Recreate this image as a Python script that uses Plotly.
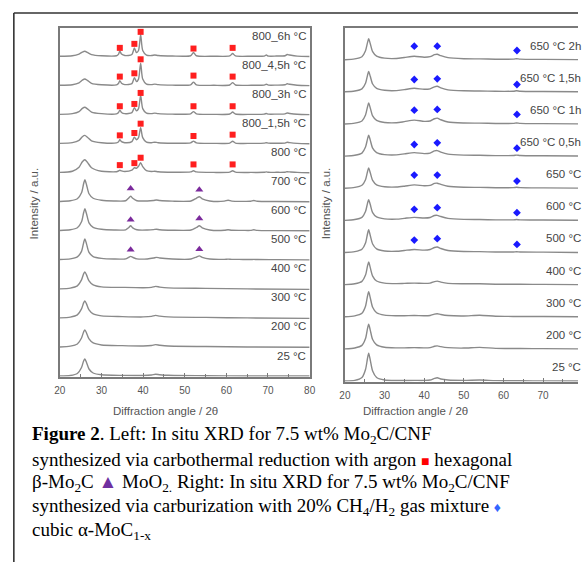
import plotly.graph_objects as go

W, H = 584, 562

# ---------------- Left panel: carbothermal reduction (argon) ----------------
LEFT_LABELS = ["800_6h °C", "800_4,5h °C", "800_3h °C", "800_1,5h °C", "800 °C",
               "700 °C", "600 °C", "500 °C", "400 °C", "300 °C", "200 °C", "25 °C"]

# 2θ sample points (800 °C series)
L_GRID_A = [20, 23, 24.6, 25.4, 26.0, 26.6, 27.6, 30, 33.6, 34.1, 34.4, 34.8, 35.6,
            37.3, 37.9, 38.4, 38.9, 39.4, 39.9, 40.8, 42, 42.8, 43.6, 47, 51.4, 52.1,
            52.8, 57, 60.8, 61.5, 62.2, 66, 69.1, 69.6, 70.1, 72, 74.1, 74.6, 75.2, 77, 80]
I_800_6H = [0.3, 0.8, 2.5, 4.5, 5.3, 4.2, 2.0, 0.8, 0.8, 2.5, 5.5, 2.5, 1.0,
            2.0, 8.5, 4.0, 6.0, 22.0, 6.0, 1.5, 1.0, 1.5, 1.0, 0.5, 0.8, 4.0,
            0.8, 0.3, 0.6, 3.0, 0.6, 0.3, 0.5, 1.5, 0.5, 0.5, 0.8, 2.0, 1.5, 0.4, 0.0]
I_800_45H = [0.3, 0.9, 2.8, 5.5, 6.6, 5.2, 2.3, 0.9, 0.8, 2.4, 5.0, 2.4, 1.0,
             2.0, 8.0, 4.0, 6.5, 22.5, 6.5, 1.5, 1.0, 1.5, 1.0, 0.5, 0.8, 3.5,
             0.8, 0.3, 0.6, 3.0, 0.6, 0.3, 0.5, 1.3, 0.5, 0.5, 0.8, 1.8, 1.3, 0.4, 0.0]
I_800_3H = [0.3, 1.0, 3.0, 6.2, 7.4, 5.8, 2.6, 1.0, 0.8, 2.2, 4.5, 2.2, 1.0,
            2.0, 7.0, 3.8, 6.0, 19.5, 6.0, 1.5, 1.0, 1.5, 1.0, 0.5, 0.8, 3.0,
            0.8, 0.3, 0.6, 2.6, 0.6, 0.3, 0.5, 1.2, 0.5, 0.5, 0.7, 1.6, 1.2, 0.4, 0.0]
I_800_15H = [0.3, 1.0, 3.3, 7.0, 8.3, 6.5, 2.9, 1.0, 0.8, 2.0, 4.0, 2.0, 1.0,
             2.0, 6.5, 4.0, 6.0, 16.0, 6.0, 1.5, 1.0, 1.5, 1.0, 0.5, 0.8, 2.6,
             0.8, 0.3, 0.6, 2.5, 0.6, 0.3, 0.5, 1.0, 0.5, 0.5, 0.6, 1.4, 1.0, 0.3, 0.0]
I_800 = [0.3, 1.5, 5.5, 11.0, 13.0, 10.5, 5.0, 1.5, 1.0, 1.8, 2.5, 1.8, 1.2,
         2.5, 5.0, 4.5, 6.5, 10.0, 6.0, 2.0, 1.2, 1.5, 1.0, 0.5, 0.8, 2.0,
         0.8, 0.3, 0.6, 2.0, 0.6, 0.3, 0.4, 0.8, 0.4, 0.4, 0.5, 1.0, 0.8, 0.3, 0.0]

# 2θ sample points (700-500 °C, MoO2 stage)
L_GRID_B = [20, 22.5, 24.2, 25.2, 25.7, 26.0, 26.4, 27.0, 28, 30, 33, 35.8, 36.5, 37.0,
            37.5, 38.5, 41, 42.5, 43.2, 44, 47, 51.5, 52.8, 53.5, 54.2, 56, 59.5, 60.4,
            61.3, 64, 65.8, 66.6, 67.4, 72, 80]
I_700 = [0.3, 1.0, 3.0, 9.0, 18.0, 22.0, 17.0, 8.0, 3.5, 1.5, 0.8, 1.0, 3.5, 5.5,
         3.5, 1.0, 0.8, 1.3, 1.8, 1.2, 0.6, 0.8, 3.5, 5.0, 3.0, 0.8, 0.6, 1.5,
         0.6, 0.4, 0.5, 1.3, 0.5, 0.2, 0.0]
I_600 = [0.3, 1.0, 3.0, 9.0, 18.0, 22.0, 17.0, 8.0, 3.5, 1.5, 0.8, 1.0, 3.0, 5.0,
         3.0, 1.0, 0.8, 1.2, 1.6, 1.1, 0.6, 0.8, 3.3, 5.0, 3.0, 0.8, 0.5, 1.1,
         0.5, 0.4, 0.4, 1.0, 0.4, 0.2, 0.0]
I_500 = [0.3, 1.0, 3.0, 8.5, 17.0, 21.0, 16.0, 7.5, 3.3, 1.5, 0.8, 1.0, 2.5, 3.5,
         2.5, 1.0, 0.9, 1.8, 2.5, 1.8, 0.8, 0.8, 2.8, 4.0, 2.5, 0.8, 0.5, 0.7,
         0.5, 0.4, 0.3, 0.5, 0.3, 0.2, 0.0]

# 2θ sample points (400-25 °C, carbon only)
L_GRID_C = [20, 22.5, 24.2, 25.2, 25.7, 26.0, 26.4, 27.0, 28, 30, 35, 40, 42, 43, 44, 46, 55, 65, 80]
I_400 = [0.0, 0.8, 3.0, 9.0, 15.0, 17.0, 14.0, 8.0, 4.0, 2.0, 1.5, 1.2, 1.5, 2.5, 1.8, 1.0, 0.5, 0.0, -0.5]
I_300 = [0.0, 0.8, 3.0, 9.0, 15.0, 17.0, 14.0, 8.0, 4.0, 2.0, 1.3, 1.0, 1.5, 2.5, 1.8, 1.0, 0.5, 0.0, -0.5]
I_200 = [0.0, 0.8, 3.0, 9.0, 15.0, 17.0, 14.0, 8.0, 4.0, 2.0, 1.3, 1.0, 1.5, 2.3, 1.7, 0.9, 0.4, 0.0, -0.3]
I_25 = [0.0, 0.5, 2.5, 8.5, 15.0, 17.0, 13.5, 7.0, 3.0, 1.2, 0.6, 0.5, 1.0, 1.8, 1.3, 0.7, 0.3, 0.0, 0.0]

# Phase markers (left): hexagonal beta-Mo2C squares and MoO2 triangles
MO2C_X = [34.4, 37.9, 39.4, 52.1, 61.5]
MO2C_H_6H = [8.7, 12.7, 24.7, 8.0, 8.7]
MO2C_H_45H = [9.0, 12.3, 26.3, 10.0, 9.0]
MO2C_H_3H = [8.4, 10.7, 21.7, 8.4, 8.4]
MO2C_H_15H = [8.3, 10.7, 20.0, 7.7, 9.0]
MO2C_H_800 = [7.6, 9.6, 15.0, 8.3, 8.3]
MOO2_X = [37.0, 53.5]
MOO2_H_700 = [13.3, 12.0]
MOO2_H_600 = [11.0, 12.4]
MOO2_H_500 = [10.0, 10.7]

# ---------------- Right panel: carburization 20% CH4/H2 ----------------
RIGHT_LABELS = ["650 °C 2h", "650 °C 1,5h", "650 °C 1h", "650 °C 0,5h", "650 °C",
                "600 °C", "500 °C", "400 °C", "300 °C", "200 °C", "25 °C"]
R_GRID = [20, 22.5, 24.3, 25.2, 25.7, 26.0, 26.4, 27.0, 28, 30, 33, 35, 37.5, 40,
          41.5, 42.6, 43.3, 44.2, 46, 50, 54, 58, 62.5, 63.3, 64.2, 70, 80]
I_650_2H = [0.0, 0.8, 3.0, 9.0, 17.0, 21.0, 16.0, 8.0, 3.5, 1.5, 1.2, 2.2, 3.5, 2.5,
            3.0, 5.0, 5.5, 4.0, 2.0, 1.0, 0.8, 0.5, 0.6, 1.0, 0.6, 0.3, 0.0]
I_650_15H = [0.0, 0.8, 3.0, 8.5, 16.5, 20.3, 15.5, 7.8, 3.4, 1.5, 1.2, 2.2, 3.5, 2.5,
             3.0, 5.0, 5.5, 4.0, 2.0, 1.0, 0.8, 0.5, 0.6, 1.0, 0.6, 0.3, 0.0]
I_650_1H = [0.0, 0.8, 3.0, 9.0, 17.0, 21.0, 16.0, 8.0, 3.5, 1.5, 1.2, 2.3, 3.8, 2.6,
            3.0, 5.2, 5.8, 4.2, 2.0, 1.0, 0.8, 0.5, 0.6, 1.0, 0.6, 0.3, 0.0]
I_650_05H = [0.0, 0.8, 3.0, 9.0, 17.0, 21.0, 16.0, 8.0, 3.5, 1.5, 1.2, 2.2, 3.5, 2.5,
             3.0, 5.2, 5.5, 4.0, 2.0, 1.0, 0.8, 0.5, 0.6, 1.0, 0.6, 0.3, 0.0]
I_650 = [0.0, 0.8, 3.0, 8.5, 16.5, 20.3, 15.5, 7.8, 3.4, 1.5, 1.2, 2.0, 3.3, 2.4,
         2.8, 4.8, 5.0, 3.8, 2.0, 1.0, 0.8, 0.5, 0.6, 0.9, 0.6, 0.3, 0.0]
I_R600 = [0.0, 0.8, 3.0, 8.8, 17.0, 20.7, 15.8, 7.8, 3.4, 1.5, 1.2, 2.0, 3.0, 2.3,
          2.8, 4.8, 5.0, 3.8, 2.0, 1.0, 0.8, 0.5, 0.5, 0.8, 0.5, 0.3, 0.0]
I_R500 = [0.0, 0.8, 3.2, 9.5, 18.5, 22.7, 17.0, 8.5, 3.6, 1.5, 1.2, 2.0, 3.0, 2.3,
          3.0, 5.0, 5.5, 4.0, 2.0, 1.0, 0.8, 0.5, 0.5, 0.7, 0.5, 0.3, 0.0]
I_R400 = [0.0, 0.8, 3.2, 9.5, 18.5, 22.6, 17.0, 8.5, 3.6, 1.5, 1.0, 1.2, 1.5, 1.2,
          1.5, 3.0, 3.5, 2.5, 1.2, 0.8, 0.8, 0.4, 0.3, 0.3, 0.3, 0.2, 0.0]
I_R300 = [0.0, 0.9, 3.5, 10.5, 20.5, 25.0, 19.0, 9.5, 4.0, 1.6, 1.0, 1.0, 1.2, 1.0,
          1.3, 2.6, 3.0, 2.2, 1.2, 0.8, 1.5, 0.5, 0.3, 0.3, 0.3, 0.2, 0.0]
I_R200 = [0.0, 0.9, 3.5, 10.3, 20.2, 24.6, 18.8, 9.3, 4.0, 1.6, 1.0, 1.0, 1.2, 1.0,
          1.3, 2.6, 3.0, 2.2, 1.2, 0.8, 1.5, 0.5, 0.3, 0.3, 0.3, 0.2, 0.0]
I_R25 = [0.0, 0.6, 3.5, 11.5, 22.5, 27.7, 21.0, 10.0, 3.5, 1.0, 0.5, 0.5, 0.6, 0.6,
         1.0, 2.6, 3.2, 2.0, 1.0, 0.6, 1.0, 0.4, 0.2, 0.2, 0.2, 0.1, 0.0]

# Phase markers (right): cubic alpha-MoC1-x
MOC_X = [37.5, 43.3, 63.4]
MOC_H_2H = [13.5, 13.5, 9.2]
MOC_H_15H = [12.3, 13.0, 7.3]
MOC_H_1H = [13.8, 14.5, 9.5]
MOC_H_05H = [11.6, 13.3, 7.9]
MOC_H_650 = [13.1, 13.1, 7.1]
MOC_H_600 = [11.0, 12.7, 7.7]
MOC_H_500 = [12.4, 13.8, 8.1]

X_TICKS = [20, 30, 40, 50, 60, 70, 80]

# ---------------- build ----------------
LEFT_SERIES = [(L_GRID_A, I_800_6H), (L_GRID_A, I_800_45H), (L_GRID_A, I_800_3H),
               (L_GRID_A, I_800_15H), (L_GRID_A, I_800),
               (L_GRID_B, I_700), (L_GRID_B, I_600), (L_GRID_B, I_500),
               (L_GRID_C, I_400), (L_GRID_C, I_300), (L_GRID_C, I_200), (L_GRID_C, I_25)]
LEFT_MARKS = [(MO2C_X, MO2C_H_6H, "square"), (MO2C_X, MO2C_H_45H, "square"),
              (MO2C_X, MO2C_H_3H, "square"), (MO2C_X, MO2C_H_15H, "square"),
              (MO2C_X, MO2C_H_800, "square"),
              (MOO2_X, MOO2_H_700, "triangle-up"), (MOO2_X, MOO2_H_600, "triangle-up"),
              (MOO2_X, MOO2_H_500, "triangle-up")]
RIGHT_SERIES = [I_650_2H, I_650_15H, I_650_1H, I_650_05H, I_650, I_R600, I_R500,
                I_R400, I_R300, I_R200, I_R25]
RIGHT_MARKS = [MOC_H_2H, MOC_H_15H, MOC_H_1H, MOC_H_05H, MOC_H_650, MOC_H_600, MOC_H_500]

L_STEP = 29.04
R_STEP = 32.15
R_XMAX = 78.8            # right panel is cut off by the picture edge
R_PX_PER_DEG = 4.046
TRACE_COLOR = "#8a8a8a"
AXIS_COLOR = "#7a7a7a"
LABEL_COLOR = "#444444"
SANS = "Liberation Sans, Arial, sans-serif"
SERIF = "Liberation Serif, Times New Roman, serif"

fig = go.Figure()
nL = len(LEFT_SERIES)
for i, (gx, gy) in enumerate(LEFT_SERIES):
    off = (nL - 1 - i) * L_STEP
    fig.add_trace(go.Scatter(x=gx, y=[v + off for v in gy], mode="lines",
                             line=dict(color=TRACE_COLOR, width=1.4, shape="spline", smoothing=0.7),
                             xaxis="x", yaxis="y", hoverinfo="skip", showlegend=False))
for i, (mx, mh, sym) in enumerate(LEFT_MARKS):
    off = (nL - 1 - i) * L_STEP
    col = "#ff1f1f" if sym == "square" else "#7b2a9c"
    size = 6 if sym == "square" else 7
    fig.add_trace(go.Scatter(x=mx, y=[h + off for h in mh], mode="markers",
                             marker=dict(symbol=sym, size=size, color=col, line=dict(width=0)),
                             xaxis="x", yaxis="y", hoverinfo="skip", showlegend=False, cliponaxis=False))

nR = len(RIGHT_SERIES)
for i, gy in enumerate(RIGHT_SERIES):
    off = (nR - 1 - i) * R_STEP
    fig.add_trace(go.Scatter(x=R_GRID, y=[v + off for v in gy], mode="lines",
                             line=dict(color=TRACE_COLOR, width=1.4, shape="spline", smoothing=0.7),
                             xaxis="x2", yaxis="y2", hoverinfo="skip", showlegend=False))
for i, mh in enumerate(RIGHT_MARKS):
    off = (nR - 1 - i) * R_STEP
    fig.add_trace(go.Scatter(x=MOC_X, y=[h + off for h in mh], mode="markers",
                             marker=dict(symbol="diamond", size=6, color="#1a1aff", line=dict(width=0)),
                             xaxis="x2", yaxis="y2", hoverinfo="skip", showlegend=False, cliponaxis=False))

annotations = []
for i, lab in enumerate(LEFT_LABELS):
    off = (nL - 1 - i) * L_STEP
    annotations.append(dict(x=79.6, y=off + 20.5, xref="x", yref="y", text=lab, showarrow=False,
                            xanchor="right", yanchor="middle",
                            font=dict(family=SANS, size=11.5, color=LABEL_COLOR)))
# right labels: kept fully inside the picture, right-aligned at its edge
R_LABEL_END = 80.0
anchor_x = R_XMAX - 0.05
for i, lab in enumerate(RIGHT_LABELS):
    off = (nR - 1 - i) * R_STEP
    annotations.append(dict(x=anchor_x, y=off + 14, xref="x2", yref="y2", text=lab, showarrow=False,
                            xanchor="right", yanchor="middle",
                            xshift=(R_LABEL_END - anchor_x) * R_PX_PER_DEG,
                            font=dict(family=SANS, size=11.5, color=LABEL_COLOR)))

def px(xp):
    return xp / W

def py(yp):
    return 1 - yp / H

# axis titles
for xp in (29, 327):
    annotations.append(dict(x=px(xp), y=py(203), xref="paper", yref="paper", text="Intensity / a.u.",
                            showarrow=False, textangle=-90, xanchor="center", yanchor="middle",
                            font=dict(family=SANS, size=11.5, color="#555555")))
for xp in (163, 418):
    annotations.append(dict(x=px(xp), y=py(411), xref="paper", yref="paper",
                            text="Diffraction angle / 2θ", showarrow=False,
                            xanchor="center", yanchor="middle",
                            font=dict(family=SANS, size=11.5, color="#555555")))

CAPTION = [
    "<b>Figure 2</b>. Left: In situ XRD for 7.5 wt% Mo<sub>2</sub>C/CNF",
    "synthesized via carbothermal reduction with argon <span style='color:#ff0000;font-size:14px'>■</span> hexagonal",
    "β-Mo<sub>2</sub>C <span style='color:#7030a0'>▲</span> MoO<sub>2.</sub> Right: In situ XRD for 7.5 wt% Mo<sub>2</sub>C/CNF",
    "synthesized via carburization with 20% CH<sub>4</sub>/H<sub>2</sub> gas mixture <span style='color:#3366ff;font-size:14px'>♦</span>",
    "cubic α-MoC<sub>1-x</sub>",
]
for k, line in enumerate(CAPTION):
    annotations.append(dict(x=px(25), y=py(435 + 24 * k), xref="paper", yref="paper", text=line,
                            showarrow=False, xanchor="left", yanchor="middle",
                            font=dict(family=SERIF, size=19, color="#000000")))

shapes = [
    dict(type="line", xref="paper", yref="paper", x0=px(8), x1=1.0, y0=py(13), y1=py(13),
         line=dict(color="#333333", width=1.6)),
    dict(type="line", xref="paper", yref="paper", x0=px(8), x1=px(8), y0=py(13), y1=0.0,
         line=dict(color="#333333", width=1.6)),
]

xcommon = dict(tickvals=X_TICKS, ticks="inside", ticklen=4, tickwidth=1.2, tickcolor=AXIS_COLOR,
               minor=dict(ticks="inside", ticklen=2.5, dtick=5, tick0=25, tickcolor=AXIS_COLOR),
               showline=True, linecolor=AXIS_COLOR, linewidth=1.5, mirror=True,
               showgrid=False, zeroline=False, ticklabelstandoff=4,
               tickfont=dict(family=SANS, size=10, color="#555555"))
fig.update_layout(
    width=W, height=H, margin=dict(l=0, r=0, t=0, b=0),
    paper_bgcolor="white", plot_bgcolor="white",
    xaxis=dict(domain=[px(55), px(310)], range=[20, 80], anchor="y", **xcommon),
    yaxis=dict(domain=[py(376.5), py(28)], range=[-0.5, 348], anchor="x", showticklabels=False,
               ticks="", showline=True, linecolor=AXIS_COLOR, linewidth=1.5, mirror=True,
               showgrid=False, zeroline=False),
    xaxis2=dict(domain=[px(346), 1.0], range=[20, R_XMAX], anchor="y2", **xcommon),
    yaxis2=dict(domain=[py(381.5), py(28)], range=[-0.5, 353.2], anchor="x2", showticklabels=False,
                ticks="", showline=True, linecolor=AXIS_COLOR, linewidth=1.5, mirror=False,
                showgrid=False, zeroline=False),
    annotations=annotations, shapes=shapes,
)

fig.write_html("out.html")
